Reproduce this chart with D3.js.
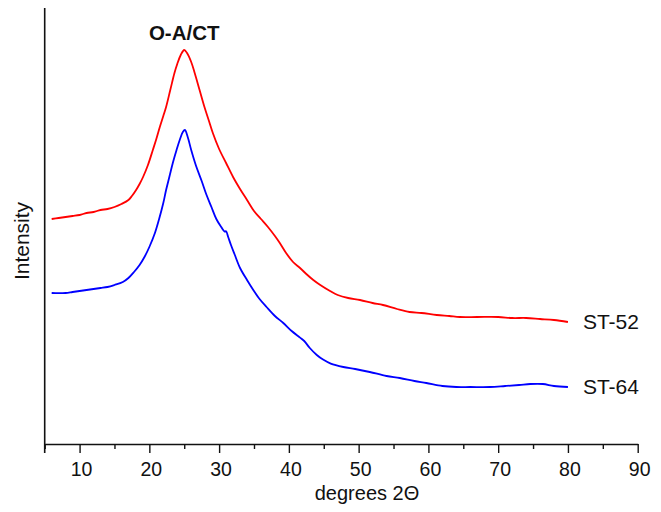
<!DOCTYPE html>
<html>
<head>
<meta charset="utf-8">
<script src="https://cdn.jsdelivr.net/npm/d3@7"></script>
<style>
  html, body { margin: 0; padding: 0; background: #fff; }
  svg { display: block; font-family: "Liberation Sans", Arial, sans-serif; }
</style>
</head>
<body>
<svg id="chart" width="661" height="512"></svg>
<script>
// XRD patterns: diffraction angle (degrees 2θ) vs. intensity (counts, arbitrary)
const st52Angle = [6.0, 7.0, 8.0, 9.0, 10.0, 11.0, 12.0, 13.0, 14.0, 15.0, 16.0, 17.0, 17.5, 18.1, 18.6, 19.1, 19.8, 20.5, 21.0, 21.5, 22.0, 22.4, 23.0, 23.6, 24.0, 24.5, 25.0, 25.4, 26.0, 26.5, 27.2, 27.9, 28.5, 29.1, 30.0, 31.0, 32.0, 33.0, 34.0, 35.0, 36.0, 37.0, 38.0, 38.7, 39.6, 40.6, 41.6, 42.5, 43.5, 44.5, 45.9, 47.0, 48.5, 50.2, 52.0, 53.5, 55.5, 57.3, 59.0, 61.2, 63.0, 64.5, 67.0, 70.0, 72.0, 74.0, 76.0, 78.0, 80.0];
const st52Counts = [1125, 1130, 1135, 1140, 1145, 1155, 1160, 1170, 1175, 1185, 1200, 1220, 1240, 1270, 1300, 1335, 1395, 1470, 1525, 1585, 1640, 1685, 1770, 1855, 1900, 1945, 1970, 1955, 1910, 1855, 1770, 1685, 1620, 1555, 1475, 1405, 1335, 1275, 1220, 1165, 1125, 1085, 1040, 1005, 955, 910, 880, 850, 820, 795, 765, 745, 730, 720, 705, 695, 675, 660, 655, 645, 640, 635, 635, 635, 630, 630, 625, 620, 610];

const st64Angle = [6.0, 7.0, 8.0, 9.0, 10.0, 11.0, 12.0, 13.0, 14.0, 15.0, 16.2, 17.0, 17.8, 18.6, 19.3, 20.0, 20.8, 21.4, 22.0, 22.4, 22.9, 23.4, 23.9, 24.4, 24.8, 25.1, 25.5, 26.0, 26.7, 27.5, 28.2, 28.9, 29.6, 30.3, 30.8, 31.0, 31.3, 31.7, 32.2, 33.0, 34.0, 34.9, 35.8, 36.8, 38.0, 39.2, 40.4, 41.6, 42.2, 43.0, 44.0, 44.9, 46.0, 47.8, 49.5, 51.6, 54.0, 55.9, 58.0, 59.7, 62.0, 64.0, 66.0, 68.8, 71.0, 73.0, 74.6, 76.4, 78.0, 80.0];
const st64Counts = [755, 754, 755, 760, 765, 770, 775, 780, 785, 795, 810, 830, 860, 895, 935, 985, 1055, 1125, 1205, 1270, 1340, 1410, 1470, 1525, 1560, 1570, 1535, 1470, 1390, 1315, 1245, 1185, 1125, 1085, 1062, 1064, 1035, 995, 950, 880, 820, 770, 725, 685, 640, 605, 565, 532, 515, 480, 445, 422, 402, 385, 375, 360, 340, 330, 315, 305, 290, 285, 285, 285, 290, 295, 300, 300, 290, 285];

const seriesNames = ["ST-52", "ST-64"];
const seriesColors = ["#ff0000", "#0000ff"];
const peakLabel = "O-A/CT";
const peakAngle = 25.0;

const xDomain = [5, 90];
const yDomain = [0, 2180];
const xMajorTicks = [10, 20, 30, 40, 50, 60, 70, 80, 90];
const xMinorTicks = [5, 15, 25, 35, 45, 55, 65, 75, 85];
const xTitle = "degrees 2\u0398";
const yTitle = "Intensity";

const margin = { top: 8, right: 23.3, bottom: 68, left: 44.7 };
const width = 661, height = 512;
const svg = d3.select("#chart");

const x = d3.scaleLinear().domain(xDomain).range([margin.left, width - margin.right]);
const y = d3.scaleLinear().domain(yDomain).range([height - margin.bottom, margin.top]);

const series = [
  { name: seriesNames[0], color: seriesColors[0], pts: st52Angle.map((a, i) => [a, st52Counts[i]]) },
  { name: seriesNames[1], color: seriesColors[1], pts: st64Angle.map((a, i) => [a, st64Counts[i]]) }
];

// Curves
const line = d3.line().x(d => x(d[0])).y(d => y(d[1])).curve(d3.curveCatmullRom.alpha(0.5));
series.forEach(s => {
  svg.append("path")
    .datum(s.pts)
    .attr("fill", "none")
    .attr("stroke", s.color)
    .attr("stroke-width", 1.8)
    .attr("stroke-linejoin", "round")
    .attr("d", line);
  const last = s.pts[s.pts.length - 1];
  svg.append("text")
    .attr("x", x(last[0]) + 15)
    .attr("y", y(last[1]) + 7)
    .attr("font-size", 21)
    .attr("fill", "#111")
    .text(s.name);
});

// Peak annotation
const peakIdx = d3.maxIndex(st52Counts);
svg.append("text")
  .attr("x", x(peakAngle))
  .attr("y", y(st52Counts[peakIdx]) - 10)
  .attr("text-anchor", "middle")
  .attr("font-size", 20.5)
  .attr("font-weight", "bold")
  .attr("fill", "#111")
  .text(peakLabel);

// Bottom axis: major ticks with labels, minor ticks without
const y0 = y(yDomain[0]);
const xAxis = d3.axisBottom(x).tickValues(xMajorTicks).tickSize(9).tickSizeOuter(0).tickPadding(9);
const gx = svg.append("g").attr("transform", `translate(0,${y0})`).call(xAxis);
gx.select(".domain").attr("stroke", "#111").attr("stroke-width", 1.6);
gx.selectAll(".tick line").attr("stroke", "#111").attr("stroke-width", 1.4);
gx.selectAll(".tick text").attr("font-size", 19.5).attr("fill", "#111")
  .attr("font-family", "Liberation Sans, Arial, sans-serif").attr("dx", 1.5);

const xMinor = d3.axisBottom(x).tickValues(xMinorTicks).tickSize(5).tickSizeOuter(0).tickFormat("");
const gxm = svg.append("g").attr("transform", `translate(0,${y0})`).call(xMinor);
gxm.select(".domain").remove();
gxm.selectAll(".tick line").attr("stroke", "#111").attr("stroke-width", 1.4);

// Left axis line (no ticks), running down to the tick at the axis origin
svg.append("line")
  .attr("x1", x(xDomain[0])).attr("x2", x(xDomain[0]))
  .attr("y1", y(yDomain[1])).attr("y2", y0 + 9)
  .attr("stroke", "#111").attr("stroke-width", 1.6);

// Axis titles
svg.append("text")
  .attr("x", 367)
  .attr("y", 499.5)
  .attr("text-anchor", "middle")
  .attr("font-size", 20)
  .attr("fill", "#111")
  .text(xTitle);

svg.append("text")
  .attr("transform", `translate(29,${(y(yDomain[1]) + y0) / 2 + 15}) rotate(-90)`)
  .attr("text-anchor", "middle")
  .attr("font-size", 21)
  .attr("fill", "#111")
  .text(yTitle);
</script>
</body>
</html>
